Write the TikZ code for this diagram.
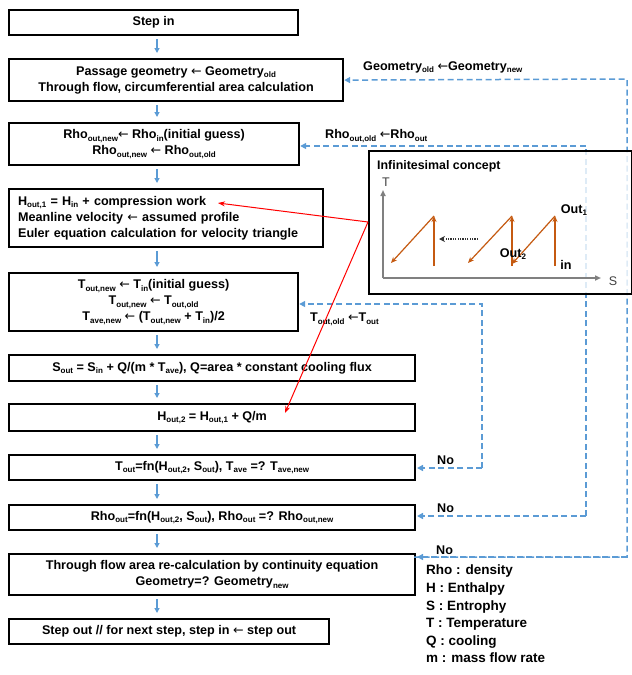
\documentclass[tikz,border=0pt]{standalone}
\usepackage{fontspec}
\setmainfont{Liberation Sans}
\newfontfamily\arrfont{DejaVu Sans}
\usetikzlibrary{arrows.meta,calc}
\definecolor{flowblue}{RGB}{91,155,213}
\definecolor{orng}{RGB}{197,90,17}
\definecolor{axgray}{RGB}{128,128,128}
\newcommand\sbs[1]{\raisebox{-2.6pt}{\fontsize{8}{8}\selectfont #1}}
\newcommand\la{{\arrfont\mdseries ←}}
\begin{document}
\begin{tikzpicture}[x=1pt,y=-1pt,
  box/.style={draw=black,line width=2.2pt,fill=white,inner sep=0pt,align=center,
    font=\bfseries\fontsize{12.6}{16}\selectfont,anchor=north west},
  flow/.style={draw=flowblue,line width=1.2pt,-{Triangle[length=5pt,width=5pt]},
    shorten <=3pt,shorten >=5pt},
  dloop/.style={draw=flowblue,line width=1.5pt,dash pattern=on 6pt off 3.5pt,
    -{Triangle[length=6pt,width=6pt]}},
  lbl/.style={font=\bfseries\fontsize{12.6}{14}\selectfont,anchor=west,inner sep=0pt},
  redarr/.style={draw=red,line width=1pt,-{Stealth[length=7pt,width=5pt]}},
  orar/.style={draw=orng,line width=1.2pt,-{Stealth[length=6pt,width=5pt]}},
  axis/.style={draw=axgray,line width=1.5pt,-{Triangle[length=6pt,width=5pt]}}]
\useasboundingbox (0,0) rectangle (632,675);
% boxes
\node[box,minimum width=289pt,minimum height=25pt] (n1) at (8,9) {Step in};
\node[box,minimum width=334pt,minimum height=42pt] (n2) at (8,58)
  {Passage geometry \la{} Geometry\sbs{old}\\Through flow, circumferential area calculation};
\node[box,minimum width=290pt,minimum height=42pt] (n3) at (8,122)
  {Rho\sbs{out,new}\la{} Rho\sbs{in}(initial guess)\\Rho\sbs{out,new} \la{} Rho\sbs{out,old}};
\node[box,align=left,text width=296pt,inner xsep=9pt,minimum height=58pt] (n4) at (8,188)
  {H\sbs{out,1} = H\sbs{in} + compression work\\Meanline velocity \la{} assumed profile\\Euler equation calculation for velocity triangle};
\node[box,minimum width=289pt,minimum height=58pt] (n5) at (8,272)
  {T\sbs{out,new} \la{} T\sbs{in}(initial guess)\\T\sbs{out,new} \la{} T\sbs{out,old}\\T\sbs{ave,new} \la{} (T\sbs{out,new} + T\sbs{in})/2};
\node[box,minimum width=406pt,minimum height=26pt] (n6) at (8,354)
  {S\sbs{out} = S\sbs{in} + Q/(m * T\sbs{ave}), Q=area * constant cooling flux};
\node[box,minimum width=406pt,minimum height=27pt] (n7) at (8,403)
  {H\sbs{out,2} = H\sbs{out,1} + Q/m};
\node[box,minimum width=406pt,minimum height=25pt] (n8) at (8,454)
  {T\sbs{out}=fn(H\sbs{out,2}, S\sbs{out}), T\sbs{ave} =? T\sbs{ave,new}};
\node[box,minimum width=406pt,minimum height=25pt] (n9) at (8,504)
  {Rho\sbs{out}=fn(H\sbs{out,2}, S\sbs{out}), Rho\sbs{out} =? Rho\sbs{out,new}};
\node[box,minimum width=406pt,minimum height=41pt] (n10) at (8,553)
  {Through flow area re-calculation by continuity equation\\Geometry=? Geometry\sbs{new}};
\node[box,minimum width=320pt,minimum height=25pt] (n11) at (8,618)
  {Step out // for next step, step in \la{} step out};
% flow arrows
\coordinate (col) at (157,0);
\foreach \a/\b in {n1/n2,n2/n3,n3/n4,n4/n5,n5/n6,n6/n7,n7/n8,n8/n9,n9/n10,n10/n11}
  \draw[flow] (\a.south -| col) -- (\b.north -| col);
% dashed loops
\coordinate (gx) at (627,79);
\coordinate (rx) at (586,146);
\coordinate (tx) at (482,304);
\coordinate (g10) at (414,557);
\coordinate (g9) at (414,516);
\coordinate (g8) at (414,468);
\draw[dloop] (g10) -- ++(2,0) -| (gx) -- (n2.east);
\draw[dloop] (g10 -| gx) -- ([xshift=3pt]g10);
\draw[dloop] (g9 -| rx) -- ([xshift=3pt]g9);
\draw[dloop] (rx |- g9) -- (rx) -- (n3.east |- rx);
\draw[dloop] (g8 -| tx) -- ([xshift=3pt]g8);
\draw[dloop] (tx |- g8) -- (tx) -- (n5.east |- tx);
% labels
\node[lbl] (lg) at (363,67) {Geometry\sbs{old} \la{}Geometry\sbs{new}};
\node[lbl] (lr) at (325,136) {Rho\sbs{out,old} \la{}Rho\sbs{out}};
\node[lbl] (lt) at (310,319) {T\sbs{out,old} \la{}T\sbs{out}};
\node[lbl] (no1) at (437,460) {No};
\node[lbl] (no2) at (437,508) {No};
\node[lbl] (no3) at (436,550) {No};
% infinitesimal box
\node[draw=black,line width=2.2pt,fill=white,fill opacity=0.8,minimum width=263pt,
  minimum height=143pt,anchor=north west,inner sep=0pt] (inf) at (368,150) {};
\node[font=\bfseries\fontsize{12.4}{14}\selectfont,anchor=west,inner sep=0pt] (ttl) at (377,166) {Infinitesimal concept};
\coordinate (o) at (383,278);
\coordinate (ty) at (383,190);
\coordinate (sx) at (601,278);
\draw[axis] (o) -- (ty);
\draw[axis] (o) -- (sx);
\node[font=\fontsize{12.5}{14}\selectfont,text=black!75,inner sep=0pt] (tl) at (386,182) {T};
\node[font=\fontsize{12.5}{14}\selectfont,text=black!75,inner sep=0pt] (sl) at (613,281) {S};
\coordinate (a1) at (434,266); \coordinate (b1) at (434,216); \coordinate (c1) at (391,263);
\coordinate (a2) at (512,266); \coordinate (b2) at (512,216); \coordinate (c2) at (468,263);
\coordinate (a3) at (555,266); \coordinate (b3) at (555,216); \coordinate (c3) at (512,264);
\draw[orar] (a1) -- (b1); \draw[orar] (b1) -- (c1);
\draw[orar] (a2) -- (b2); \draw[orar] (b2) -- (c2);
\draw[orar] (a3) -- (b3); \draw[orar] (b3) -- (c3);
\coordinate (d1) at (478,239); \coordinate (d2) at (439,239);
\draw[black!80,line width=1.2pt,dash pattern=on 1.2pt off 1.2pt,-{Stealth[length=6pt,width=6pt]}] (d1) -- (d2);
\node[font=\bfseries\fontsize{12.6}{14}\selectfont,inner sep=0pt] (out1) at (574,210) {Out\sbs{1}};
\node[font=\bfseries\fontsize{12.6}{14}\selectfont,inner sep=0pt] (out2) at (513,254) {Out\sbs{2}};
\node[font=\bfseries\fontsize{12.6}{14}\selectfont,inner sep=0pt] (inl) at (566,265) {in};
% red arrows
\coordinate (rs) at (368,222);
\coordinate (rt1) at (218,203);
\coordinate (rt2) at (285,413);
\draw[redarr] (rs) -- (rt1);
\draw[redarr] (rs) -- (rt2);
% legend
\node[anchor=north west,align=left,inner sep=0pt,font=\bfseries\fontsize{13.5}{17.6}\selectfont] (leg) at (426,565)
  {Rho : density\\H : Enthalpy\\S : Entrophy\\T : Temperature\\Q : cooling\\m : mass flow rate};
\end{tikzpicture}
\end{document}
